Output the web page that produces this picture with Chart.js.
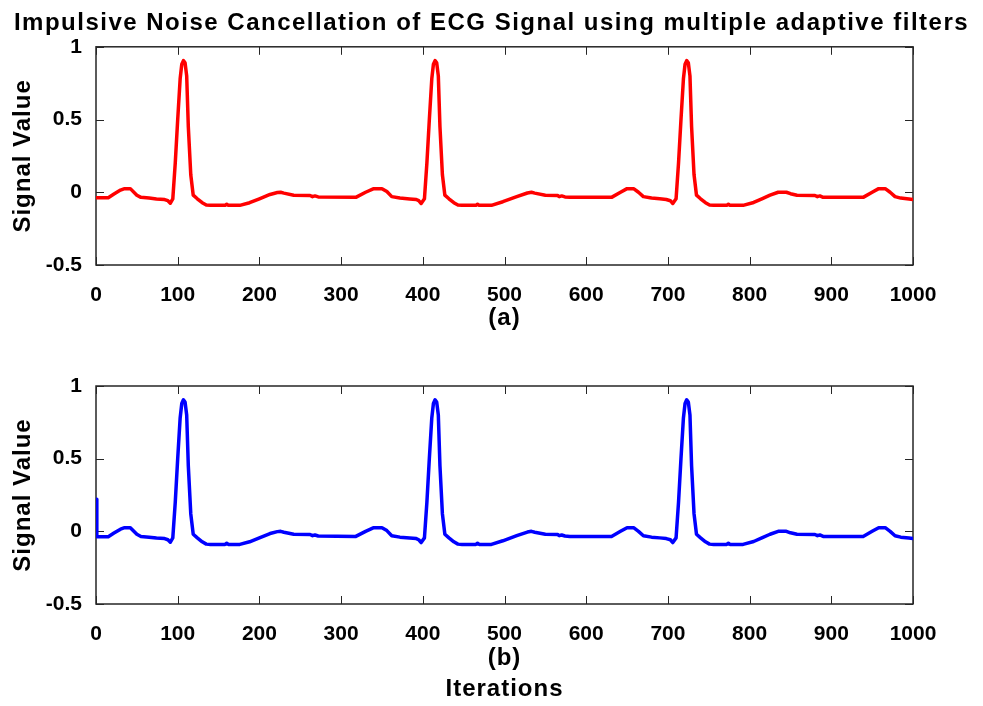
<!DOCTYPE html>
<html>
<head>
<meta charset="utf-8">
<title>Impulsive Noise Cancellation of ECG Signal</title>
<script src="https://cdn.jsdelivr.net/npm/chart.js@4"></script>
<style>
  body { margin: 0; background: #fff; }
  #wrap { position: relative; width: 983px; height: 706px; }
  #wrap canvas { position: absolute; left: 0; }
  #top { top: 0; }
  #bottom { top: 340px; }
</style>
</head>
<body>
<div id="wrap">
  <canvas id="top" width="983" height="340"></canvas>
  <canvas id="bottom" width="983" height="366"></canvas>
</div>
<script>
// sample index (iterations)
const iterations = [
  0, 1, 15, 22, 30, 35, 42, 50, 55, 65, 74, 84, 88, 91, 94, 97, 100, 103, 105, 107,
  109, 111, 113, 116, 119, 124, 130, 135, 140, 158, 160, 162, 176, 188, 200, 213, 222, 226, 230, 242,
  262, 265, 268, 272, 318, 330, 340, 350, 356, 362, 372, 384, 392, 395, 398, 402, 405, 408, 411, 413,
  415, 417, 419, 421, 424, 427, 432, 438, 443, 448, 465, 467, 469, 484, 498, 515, 528, 533, 537, 550,
  565, 567, 570, 574, 580, 631, 642, 650, 658, 664, 670, 680, 690, 698, 703, 706, 710, 713, 716, 719,
  721, 723, 725, 727, 729, 732, 735, 740, 746, 751, 756, 772, 774, 776, 792, 805, 815, 825, 835, 845,
  850, 858, 880, 883, 886, 890, 939, 950, 958, 966, 972, 978, 985, 995, 1000
];

// (a) reference ECG signal
const ecgSignal = [
  -0.037, -0.037, -0.037, -0.012, 0.015, 0.025, 0.025, -0.02, -0.035, -0.04, -0.046, -0.05, -0.058, -0.075, -0.045, 0.2, 0.5, 0.78, 0.88, 0.905,
  0.89, 0.8, 0.45, 0.12, -0.02, -0.045, -0.072, -0.088, -0.09, -0.09, -0.082, -0.09, -0.09, -0.072, -0.045, -0.015, -0.002, 0.0, -0.006, -0.02,
  -0.022, -0.03, -0.025, -0.032, -0.035, 0.0, 0.025, 0.025, 0.005, -0.03, -0.04, -0.046, -0.05, -0.058, -0.077, -0.045, 0.2, 0.5, 0.78, 0.88,
  0.905, 0.89, 0.8, 0.45, 0.12, -0.02, -0.045, -0.072, -0.088, -0.09, -0.09, -0.082, -0.09, -0.09, -0.065, -0.03, -0.005, 0.0, -0.006, -0.02,
  -0.022, -0.03, -0.025, -0.032, -0.035, -0.035, 0.0, 0.025, 0.025, 0.0, -0.03, -0.04, -0.045, -0.05, -0.058, -0.077, -0.045, 0.2, 0.5, 0.78,
  0.88, 0.905, 0.89, 0.8, 0.45, 0.12, -0.02, -0.045, -0.072, -0.088, -0.09, -0.09, -0.082, -0.09, -0.09, -0.07, -0.045, -0.02, 0.0, 0.0,
  -0.01, -0.02, -0.022, -0.03, -0.025, -0.035, -0.035, 0.0, 0.025, 0.025, 0.0, -0.03, -0.04, -0.046, -0.05
];

// (b) output of the adaptive filters (starts with a transient)
const filteredSignal = [
  0.22, -0.037, -0.037, -0.012, 0.015, 0.025, 0.025, -0.02, -0.035, -0.04, -0.046, -0.05, -0.058, -0.075, -0.045, 0.2, 0.5, 0.78, 0.88, 0.905,
  0.89, 0.8, 0.45, 0.12, -0.02, -0.045, -0.072, -0.088, -0.09, -0.09, -0.082, -0.09, -0.09, -0.072, -0.045, -0.015, -0.002, 0.0, -0.006, -0.02,
  -0.022, -0.03, -0.025, -0.032, -0.035, 0.0, 0.025, 0.025, 0.005, -0.03, -0.04, -0.046, -0.05, -0.058, -0.077, -0.045, 0.2, 0.5, 0.78, 0.88,
  0.905, 0.89, 0.8, 0.45, 0.12, -0.02, -0.045, -0.072, -0.088, -0.09, -0.09, -0.082, -0.09, -0.09, -0.065, -0.03, -0.005, 0.0, -0.006, -0.02,
  -0.022, -0.03, -0.025, -0.032, -0.035, -0.035, 0.0, 0.025, 0.025, 0.0, -0.03, -0.04, -0.045, -0.05, -0.058, -0.077, -0.045, 0.2, 0.5, 0.78,
  0.88, 0.905, 0.89, 0.8, 0.45, 0.12, -0.02, -0.045, -0.072, -0.088, -0.09, -0.09, -0.082, -0.09, -0.09, -0.07, -0.045, -0.02, 0.0, 0.0,
  -0.01, -0.02, -0.022, -0.03, -0.025, -0.035, -0.035, 0.0, 0.025, 0.025, 0.0, -0.03, -0.04, -0.046, -0.05
];

const xTicks = [0, 100, 200, 300, 400, 500, 600, 700, 800, 900, 1000];
const yTicks = [-0.5, 0, 0.5, 1];

const FONT = '"Liberation Sans", Arial, Helvetica, sans-serif';
Chart.defaults.font.family = FONT;
Chart.defaults.color = '#000';

// matlab-ish box with inward ticks on all four sides
const boxAxes = {
  id: 'boxAxes',
  beforeDatasetsDraw(chart) {
    const { ctx, chartArea: a, scales: { x, y } } = chart;
    const len = 8;
    ctx.save();
    ctx.strokeStyle = '#262626';
    ctx.lineWidth = 1.5;
    ctx.strokeRect(a.left, a.top, a.right - a.left, a.bottom - a.top);
    ctx.lineWidth = 1;
    ctx.beginPath();
    x.ticks.forEach((t) => {
      const px = Math.round(x.getPixelForValue(t.value)) + 0.5;
      ctx.moveTo(px, a.bottom); ctx.lineTo(px, a.bottom - len);
      ctx.moveTo(px, a.top); ctx.lineTo(px, a.top + len);
    });
    y.ticks.forEach((t) => {
      const py = Math.round(y.getPixelForValue(t.value)) + 0.5;
      ctx.moveTo(a.left, py); ctx.lineTo(a.left + len, py);
      ctx.moveTo(a.right, py); ctx.lineTo(a.right - len, py);
    });
    ctx.stroke();
    ctx.restore();
  }
};

// the original titles are set a bit wider than Arial, add some tracking
const trackedText = {
  id: 'trackedText',
  afterLayout(chart) {
    const ctx = chart.ctx;
    const wrap = (obj, name, spacing) => {
      if (!obj || obj['_tracked_' + name]) return;
      const orig = obj[name];
      obj[name] = function (...args) {
        ctx.save();
        ctx.letterSpacing = spacing;
        const r = orig.apply(this, args);
        ctx.restore();
        return r;
      };
      obj['_tracked_' + name] = true;
    };
    wrap(chart.titleBlock, 'draw', '1.5px');
    Object.values(chart.scales).forEach((s) => wrap(s, 'drawTitle', '1px'));
  }
};

function makeChart(id, values, color, opts) {
  const points = iterations.map((t, i) => ({ x: t, y: values[i] }));
  return new Chart(document.getElementById(id), {
    type: 'line',
    data: {
      datasets: [{
        data: points,
        borderColor: color,
        borderWidth: 3.5,
        pointRadius: 0,
        tension: 0,
        fill: false,
        borderJoinStyle: 'round',
        borderCapStyle: 'round'
      }]
    },
    options: {
      responsive: false,
      animation: false,
      events: [],
      layout: { padding: { top: opts.padTop, right: 0, left: 0, bottom: 0 } },
      plugins: {
        legend: { display: false },
        tooltip: { enabled: false },
        title: opts.title ? {
          display: true,
          text: opts.title,
          color: '#000',
          font: { size: 24, weight: 'bold', lineHeight: 1.2 },
          padding: { top: 9, bottom: 9 }
        } : { display: false }
      },
      scales: {
        x: {
          type: 'linear',
          min: 0,
          max: 1000,
          grid: { display: false },
          border: { display: false },
          afterBuildTicks: (s) => { s.ticks = xTicks.map((v) => ({ value: v })); },
          afterFit: (s) => { s.height = opts.xHeight; },
          ticks: {
            padding: 10,
            maxRotation: 0,
            color: '#000',
            font: { size: 21, weight: 'bold' },
            callback: (v) => String(v)
          },
          title: {
            display: true,
            text: opts.xTitle,
            color: '#000',
            font: { size: 24, weight: 'bold', lineHeight: 1.3 },
            padding: { top: 0, bottom: opts.xTitlePad }
          }
        },
        y: {
          min: -0.5,
          max: 1,
          grid: { display: false },
          border: { display: false },
          afterBuildTicks: (s) => { s.ticks = yTicks.map((v) => ({ value: v })); },
          afterFit: (s) => { s.width = 96; },
          ticks: {
            padding: 6,
            color: '#000',
            font: { size: 21, weight: 'bold' },
            callback: (v) => String(v)
          },
          title: {
            display: true,
            text: 'Signal Value',
            color: '#000',
            font: { size: 24, weight: 'bold', lineHeight: 1.2 },
            padding: { top: 9, bottom: 0 }
          }
        },
        // empty right-hand margin so the title stays centred on the page
        yRight: {
          position: 'right',
          grid: { display: false },
          border: { display: false },
          ticks: { display: false },
          afterFit: (s) => { s.width = 70; }
        }
      }
    },
    plugins: [boxAxes, trackedText]
  });
}

makeChart('top', ecgSignal, '#ff0000', {
  title: 'Impulsive Noise Cancellation of ECG Signal using multiple adaptive filters',
  padTop: 0,
  xHeight: 75,
  xTitle: '(a)',
  xTitlePad: 6
});

makeChart('bottom', filteredSignal, '#0000ff', {
  title: null,
  padTop: 46,
  xHeight: 102,
  xTitle: ['(b)', 'Iterations'],
  xTitlePad: 1
});
</script>
</body>
</html>
